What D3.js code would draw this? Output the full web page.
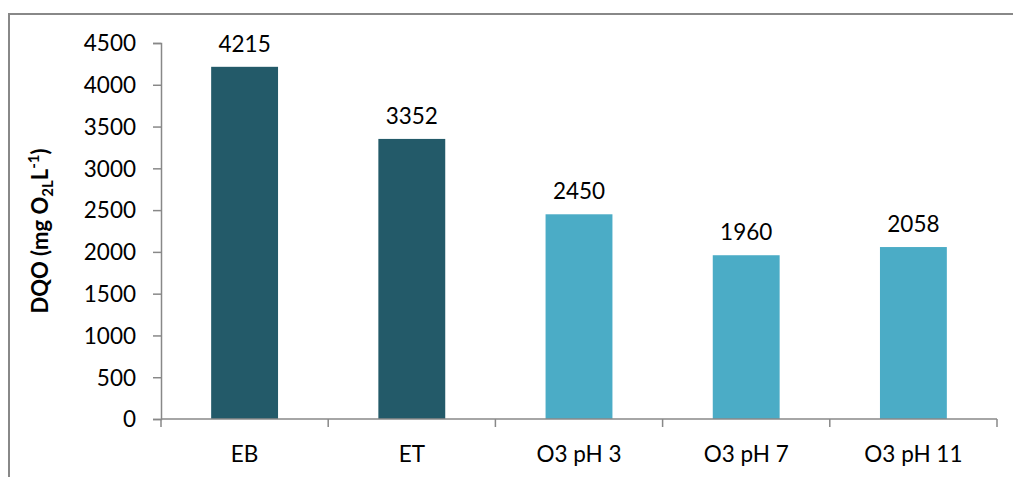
<!DOCTYPE html>
<html><head><meta charset="utf-8">
<script src="https://cdn.jsdelivr.net/npm/d3@7/dist/d3.min.js"></script>
<style>body{margin:0;background:#fff}svg{display:block}</style>
</head><body>
<svg id="c" width="1013" height="477"></svg>
<script>
const categories = ["EB", "ET", "O3 pH 3", "O3 pH 7", "O3 pH 11"];
const values = [4215, 3352, 2450, 1960, 2058];
const barColors = ["#235a69", "#235a69", "#4bacc6", "#4bacc6", "#4bacc6"];
const yTicks = [0, 500, 1000, 1500, 2000, 2500, 3000, 3500, 4000, 4500];

const svg = d3.select("#c");
const font = "Lato, 'Open Sans', sans-serif";
const fs = 22.5;
const pLeft = 161, pRight = 997, pTop = 43, pBottom = 419;

// frame
svg.append("path").attr("d", `M9,477 V14 H1013`).attr("fill","none").attr("stroke","#888").attr("stroke-width",2);

const x = d3.scaleBand().domain(categories).range([pLeft, pRight]).paddingInner(0.6).paddingOuter(0.3);
const y = d3.scaleLinear().domain([0, 4500]).range([pBottom, pTop]);

svg.selectAll("rect.bar").data(values).join("rect").attr("class","bar")
  .attr("x", (d,i) => x(categories[i])).attr("width", x.bandwidth())
  .attr("y", d => y(d)).attr("height", d => y(0) - y(d))
  .attr("fill", (d,i) => barColors[i]);

svg.selectAll("text.lbl").data(values).join("text").attr("class","lbl")
  .attr("x", (d,i) => x(categories[i]) + x.bandwidth()/2).attr("y", d => y(d) - 15)
  .attr("text-anchor","middle").attr("font-family",font).attr("font-size",fs).attr("fill","#000")
  .text(d => d);

// y axis
const yAxis = svg.append("g").attr("transform",`translate(${pLeft},0)`)
  .call(d3.axisLeft(y).tickValues(yTicks).tickSize(8).tickPadding(17).tickFormat(d3.format("d")));
yAxis.select(".domain").attr("stroke","#888").attr("stroke-width",1.5);
yAxis.selectAll(".tick line").attr("stroke","#888").attr("stroke-width",1.5);
yAxis.selectAll(".tick text").attr("font-family",font).attr("font-size",fs).attr("fill","#000").attr("dy","0.35em");

// x axis with ticks at category boundaries
const bounds = d3.range(categories.length + 1).map(i => pLeft + i * (pRight - pLeft) / categories.length);
const xg = svg.append("g");
xg.append("line").attr("x1",pLeft).attr("x2",pRight).attr("y1",pBottom).attr("y2",pBottom).attr("stroke","#888").attr("stroke-width",1.5);
xg.selectAll("line.t").data(bounds).join("line").attr("class","t")
  .attr("x1",d=>d).attr("x2",d=>d).attr("y1",pBottom).attr("y2",pBottom+8).attr("stroke","#888").attr("stroke-width",1.5);
xg.selectAll("text").data(categories).join("text")
  .attr("x", d => x(d) + x.bandwidth()/2).attr("y", pBottom + 43)
  .attr("text-anchor","middle").attr("font-family",font).attr("font-size",fs).attr("fill","#000")
  .text(d => d);

// y title
const t = svg.append("text").attr("transform",`translate(48,${(pTop+pBottom)/2}) rotate(-90)`)
  .attr("text-anchor","middle").attr("font-family",font).attr("font-size",22).attr("font-weight","bold").attr("fill","#000");
t.append("tspan").text("DQO (mg O");
t.append("tspan").attr("font-size",15).attr("dy",5).text("2L");
t.append("tspan").attr("dy",-5).text("L");
t.append("tspan").attr("font-size",15).attr("dy",-9).text("-1");
t.append("tspan").attr("dy",9).text(")");
</script>
</body></html>
